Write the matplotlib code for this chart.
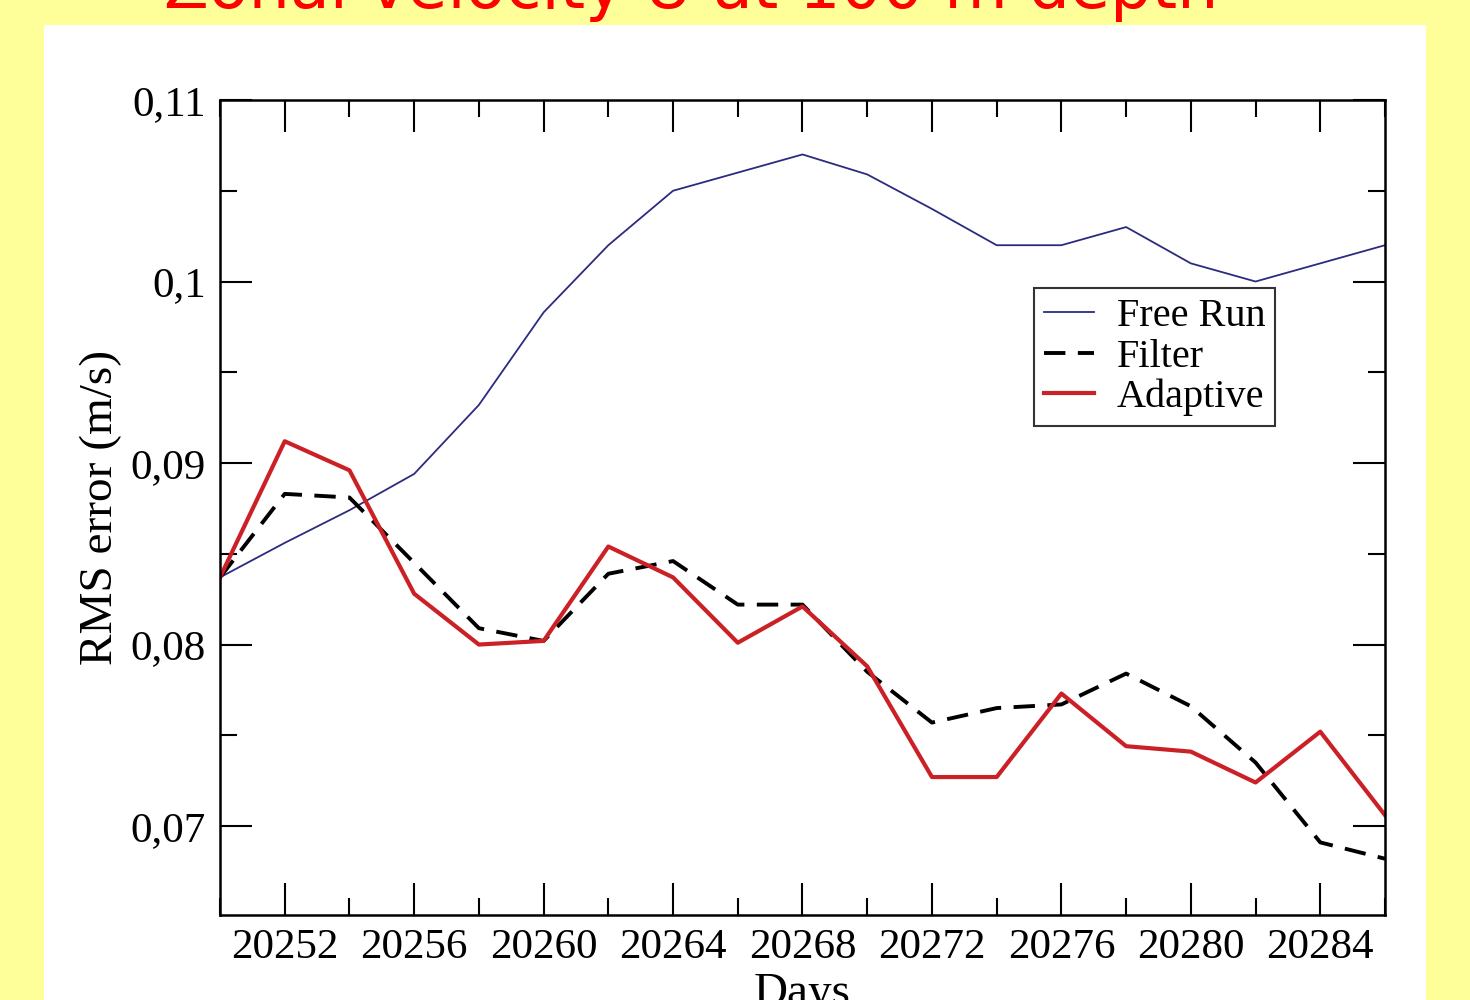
import matplotlib
matplotlib.use("Agg")
import matplotlib.pyplot as plt
from matplotlib.ticker import MultipleLocator

# days of the run, sampled every 2 days
days = [20250, 20252, 20254, 20256, 20258, 20260, 20262, 20264, 20266, 20268,
        20270, 20272, 20274, 20276, 20278, 20280, 20282, 20284, 20286]

free_run = [0.0837, 0.0856, 0.0874, 0.0894, 0.0932, 0.0983, 0.1020, 0.1050, 0.1060, 0.1070,
            0.1059, 0.1040, 0.1020, 0.1020, 0.1030, 0.1010, 0.1000, 0.1010, 0.1020]
filter_err = [0.0837, 0.0883, 0.0881, 0.0845, 0.0809, 0.0802, 0.0839, 0.0846, 0.0822, 0.0822,
              0.0785, 0.0757, 0.0765, 0.0767, 0.0784, 0.0766, 0.0735, 0.0691, 0.0682]
adaptive = [0.0837, 0.0912, 0.0896, 0.0828, 0.0800, 0.0802, 0.0854, 0.0837, 0.0801, 0.0821,
            0.0788, 0.0727, 0.0727, 0.0773, 0.0744, 0.0741, 0.0724, 0.0752, 0.0706]

x_ticks = [20252, 20256, 20260, 20264, 20268, 20272, 20276, 20280, 20284]
y_ticks = [0.07, 0.08, 0.09, 0.10, 0.11]
y_tick_labels = ["0,07", "0,08", "0,09", "0,1", "0,11"]

plt.rcParams["font.family"] = ["Liberation Serif", "DejaVu Serif"]

fig = plt.figure(figsize=(14.7, 10), dpi=100, facecolor="#ffff99")

# white panel behind the plot
panel = plt.Rectangle((44 / 1470, 0), (1426 - 44) / 1470, 1 - 25 / 1000,
                      transform=fig.transFigure, facecolor="white",
                      edgecolor="none", zorder=-10)
fig.add_artist(panel)

fig.text(0.470, 1 - 8 / 1000, "Zonal velocity U at 100 m depth", color="#ff0000",
         fontsize=47, family="DejaVu Sans", ha="center", va="baseline")

ax = fig.add_axes([220 / 1470, 85 / 1000, (1385 - 220) / 1470, (915 - 100) / 1000])
ax.set_facecolor("white")

ax.plot(days, free_run, color="#2b2b80", lw=1.3, label="Free Run")
ax.plot(days, filter_err, color="black", lw=2.8, ls=(0, (5.5, 3.2)), label="Filter")
ax.plot(days, adaptive, color="#cc2027", lw=3.0, label="Adaptive")

ax.set_xlim(20250, 20286)
ax.set_ylim(0.0651, 0.11)
ax.set_xticks(x_ticks)
ax.xaxis.set_minor_locator(MultipleLocator(2))
ax.set_yticks(y_ticks)
ax.set_yticklabels(y_tick_labels)
ax.yaxis.set_minor_locator(MultipleLocator(0.005))

ax.tick_params(which="both", direction="in", top=True, right=True, width=1.5, labelsize=31)
ax.tick_params(which="major", length=23)
ax.tick_params(which="minor", length=12)
ax.tick_params(axis="x", pad=10)
ax.tick_params(axis="y", pad=10)
for sp in ax.spines.values():
    sp.set_linewidth(1.8)

ax.set_xlabel("Days", fontsize=34, labelpad=4)
ax.set_ylabel("RMS error (m/s)", fontsize=34, labelpad=6)

leg = ax.legend(loc="upper left", bbox_to_anchor=((1034 - 220) / 1165, 1 - (288 - 100) / 815),
                fontsize=29, frameon=True, fancybox=False, edgecolor="black",
                handlelength=1.25, handletextpad=0.55, borderpad=0.25, labelspacing=0.08,
                borderaxespad=0)
leg.get_frame().set_linewidth(1.5)

fig.savefig("out.png", dpi=100, facecolor=fig.get_facecolor())
